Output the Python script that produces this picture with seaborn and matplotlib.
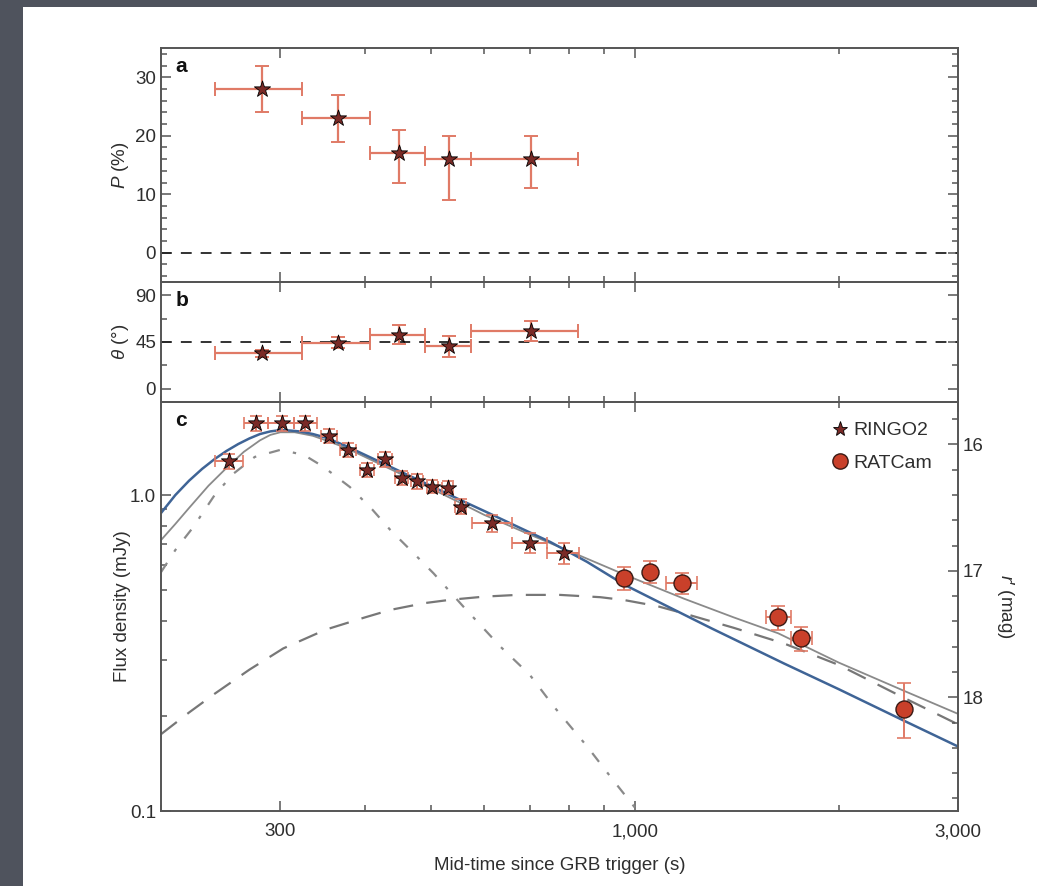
import numpy as np
import pandas as pd
import matplotlib
matplotlib.use("Agg")
import matplotlib.pyplot as plt
import seaborn as sns
from matplotlib.ticker import FixedLocator, MultipleLocator, LogLocator, NullFormatter, FixedFormatter
from matplotlib.patches import Rectangle
from matplotlib.lines import Line2D

# ---------------- data ----------------
# Panel a: polarisation degree P (%)
pol_t = [282, 365, 449, 533, 702]
pol_t_lo = [240, 323, 407, 491, 574]
pol_t_hi = [323, 407, 491, 574, 826]
pol_P = [28, 23, 17, 16, 16]
pol_P_elo = [4, 4, 5, 7, 5]
pol_P_ehi = [4, 4, 4, 4, 4]

# Panel b: polarisation angle theta (deg)
ang_theta = [34, 44, 52, 41, 56]
ang_elo = [3, 5, 9, 10, 10]
ang_ehi = [3, 6, 9, 10, 9]

# Panel c: RINGO2 light curve (mJy)
ringo_t = [252, 276, 302, 326, 354, 378, 403, 428, 453, 477, 503, 530, 554, 615, 700, 786]
ringo_t_lo = [240, 265, 288, 314, 344, 368, 393, 418, 443, 467, 493, 520, 544, 575, 659, 743]
ringo_t_hi = [264, 288, 314, 340, 364, 388, 413, 438, 463, 487, 513, 540, 564, 659, 743, 827]
ringo_F = [1.28, 1.69, 1.69, 1.69, 1.54, 1.39, 1.20, 1.30, 1.135, 1.107, 1.062, 1.055, 0.919, 0.813, 0.707, 0.654]
ringo_Ferr = [0.07, 0.09, 0.09, 0.09, 0.08, 0.07, 0.06, 0.07, 0.06, 0.06, 0.05, 0.05, 0.05, 0.05, 0.05, 0.05]

# Panel c: RATCam light curve (mJy)
rat_t = [966, 1053, 1175, 1629, 1762, 2498]
rat_t_lo = [948, 1035, 1111, 1560, 1700, 2470]
rat_t_hi = [984, 1071, 1234, 1700, 1828, 2526]
rat_F = [0.545, 0.572, 0.525, 0.410, 0.352, 0.211]
rat_F_lo = [0.500, 0.527, 0.485, 0.375, 0.322, 0.170]
rat_F_hi = [0.592, 0.618, 0.567, 0.447, 0.383, 0.254]

# Model curves
blue_t = [200, 210, 220, 230, 240, 250, 260, 270, 280, 290, 300, 310, 320, 335, 350, 375, 400, 450,
          500, 550, 600, 675, 751, 850, 966, 1100, 1300, 1661, 2000, 2498, 3000]
blue_F = [0.877, 1.00, 1.11, 1.21, 1.30, 1.38, 1.45, 1.51, 1.56, 1.59, 1.605, 1.60, 1.59, 1.56, 1.52,
          1.43, 1.34, 1.19, 1.07, 0.97, 0.89, 0.79, 0.71, 0.615, 0.52, 0.452, 0.378, 0.293, 0.243,
          0.193, 0.160]

gray_t = [200, 210, 220, 235, 250, 265, 280, 290, 300, 315, 335, 350, 375, 400, 450, 500, 550, 600,
          700, 800, 966, 1182, 1400, 1629, 2000, 2498, 3000]
gray_F = [0.72, 0.81, 0.91, 1.07, 1.22, 1.37, 1.49, 1.55, 1.58, 1.58, 1.54, 1.49, 1.41, 1.32, 1.17,
          1.05, 0.95, 0.865, 0.75, 0.665, 0.56, 0.47, 0.41, 0.365, 0.295, 0.240, 0.203]

fs_t = [200, 220, 240, 270, 303, 350, 400, 436, 490, 534, 600, 671, 776, 890, 966, 1080, 1182, 1400,
        1661, 2000, 2498, 3000]
fs_F = [0.175, 0.205, 0.235, 0.28, 0.327, 0.375, 0.41, 0.433, 0.455, 0.466, 0.477, 0.483, 0.483,
        0.475, 0.465, 0.445, 0.422, 0.38, 0.339, 0.29, 0.228, 0.188]

rs_t = [200, 210, 223, 240, 256, 275, 300, 325, 347, 380, 410, 436, 470, 505, 559, 634, 700, 760, 851,
        930, 1010]
rs_F = [0.57, 0.67, 0.79, 1.00, 1.17, 1.32, 1.39, 1.34, 1.23, 1.06, 0.90, 0.775, 0.66, 0.565, 0.443,
        0.331, 0.27, 0.214, 0.160, 0.125, 0.100]

x_ticks = [300, 1000, 3000]
x_ticklabels = ["300", "1,000", "3,000"]
mag_ticks = [16, 17, 18]
ZP = 16.40  # r' mag = ZP - 2.5 log10(F/mJy)

# ---------------- style ----------------
sns.set_theme(style="ticks")
plt.rcParams['font.family'] = ['Liberation Sans', 'DejaVu Sans']
plt.rcParams['mathtext.fontset'] = 'custom'
plt.rcParams['mathtext.it'] = 'Liberation Sans:italic'
plt.rcParams['mathtext.rm'] = 'Liberation Sans'

FS = 13.5
TXT = '#2e2e2e'
SPINE = '#555555'
ERRC = '#e07a66'
STARC = '#7a2a26'
CIRC = '#c9402a'

fig = plt.figure(figsize=(10.37, 8.86), dpi=100)
fig.patch.set_facecolor('#4f535d')
fig.patches.append(Rectangle((23/1037, 0), 1 - 23/1037, 1 - 7/886, transform=fig.transFigure,
                             facecolor='white', edgecolor='none', zorder=-10))

L, W = 161/1037, (958-161)/1037
ax_a = fig.add_axes([L, 1-282/886, W, (282-48)/886])
ax_b = fig.add_axes([L, 1-402/886, W, (402-282)/886], sharex=ax_a)
ax_c = fig.add_axes([L, 1-811/886, W, (811-402)/886], sharex=ax_a)

for ax in (ax_a, ax_b, ax_c):
    ax.set_facecolor('none')
    ax.set_xscale('log')
    for s in ax.spines.values():
        s.set_color(SPINE)
        s.set_linewidth(1.4)
    ax.tick_params(which='both', direction='in', top=True, right=True, color=SPINE,
                   labelsize=FS, labelcolor=TXT, width=1.1)
    ax.tick_params(which='major', length=7)
    ax.tick_params(which='minor', length=4)
    ax.tick_params(axis='x', which='both', pad=9)

ax_a.set_xlim(200, 3000)
ax_c.xaxis.set_major_locator(FixedLocator(x_ticks))
ax_c.xaxis.set_major_formatter(FixedFormatter(x_ticklabels))
ax_c.xaxis.set_minor_locator(LogLocator(base=10, subs=np.arange(2, 10)))
ax_c.xaxis.set_minor_formatter(NullFormatter())
plt.setp(ax_a.get_xticklabels(), visible=False)
plt.setp(ax_b.get_xticklabels(), visible=False)

# ----- panel a -----
xerr_a = [np.subtract(pol_t, pol_t_lo), np.subtract(pol_t_hi, pol_t)]
ax_a.errorbar(pol_t, pol_P, xerr=xerr_a, yerr=[pol_P_elo, pol_P_ehi], fmt='none',
              ecolor=ERRC, elinewidth=1.6, capsize=5, capthick=1.4, zorder=2)
sns.scatterplot(x=pol_t, y=pol_P, ax=ax_a, marker='*', s=150, color=STARC,
                edgecolor='black', linewidth=0.6, zorder=3, legend=False)
ax_a.axhline(0, color='#222222', lw=1.3, ls=(0, (6, 5)), zorder=1)
ax_a.set_ylim(-5, 35)
ax_a.yaxis.set_major_locator(FixedLocator([0, 10, 20, 30]))
ax_a.yaxis.set_minor_locator(MultipleLocator(2))
ax_a.set_ylabel(r'$P$ (%)', fontsize=FS, color=TXT)
ax_a.yaxis.set_label_coords(-0.038, 0.5)
ax_a.text(0.018, 0.922, 'a', transform=ax_a.transAxes, fontsize=15, fontweight='bold',
          color='#111111', va='center')

# ----- panel b -----
ax_b.errorbar(pol_t, ang_theta, xerr=xerr_a, yerr=[ang_elo, ang_ehi], fmt='none',
              ecolor=ERRC, elinewidth=1.6, capsize=5, capthick=1.4, zorder=2)
sns.scatterplot(x=pol_t, y=ang_theta, ax=ax_b, marker='*', s=150, color=STARC,
                edgecolor='black', linewidth=0.6, zorder=3, legend=False)
ax_b.axhline(45, color='#222222', lw=1.3, ls=(0, (6, 5)), zorder=1)
ax_b.set_ylim(-12.5, 102.5)
ax_b.yaxis.set_major_locator(FixedLocator([0, 45, 90]))
ax_b.yaxis.set_minor_locator(MultipleLocator(22.5))
ax_b.set_ylabel(r'$\theta$ (°)', fontsize=FS, color=TXT)
ax_b.yaxis.set_label_coords(-0.038, 0.5)
ax_b.text(0.018, 0.85, 'b', transform=ax_b.transAxes, fontsize=15, fontweight='bold',
          color='#111111', va='center')

# ----- panel c -----
ax_c.set_yscale('log')
ax_c.set_ylim(0.1, 1.97)
ax_c.yaxis.set_major_locator(FixedLocator([0.1, 1.0]))
ax_c.yaxis.set_major_formatter(FixedFormatter(['0.1', '1.0']))
ax_c.yaxis.set_minor_locator(LogLocator(base=10, subs=np.arange(2, 10)))
ax_c.yaxis.set_minor_formatter(NullFormatter())
ax_c.tick_params(which='both', right=False)

curves = pd.DataFrame({
    't': blue_t + gray_t + fs_t + rs_t,
    'F': blue_F + gray_F + fs_F + rs_F,
    'model': ['blue'] * len(blue_t) + ['gray'] * len(gray_t) + ['fs'] * len(fs_t) + ['rs'] * len(rs_t),
})
sns.lineplot(data=curves[curves.model == 'rs'], x='t', y='F', ax=ax_c, color='#8a8a8a', lw=1.6,
             estimator=None, sort=False, zorder=1).lines[-1].set_dashes([5, 6, 1.5, 6])
sns.lineplot(data=curves[curves.model == 'fs'], x='t', y='F', ax=ax_c, color='#777777', lw=1.6,
             estimator=None, sort=False, zorder=1).lines[-1].set_dashes([9, 6])
sns.lineplot(data=curves[curves.model == 'gray'], x='t', y='F', ax=ax_c, color='#8a8a8a', lw=1.3,
             estimator=None, sort=False, zorder=1)
sns.lineplot(data=curves[curves.model == 'blue'], x='t', y='F', ax=ax_c, color='#3f6496', lw=1.8,
             estimator=None, sort=False, zorder=1)

ax_c.errorbar(ringo_t, ringo_F, xerr=[np.subtract(ringo_t, ringo_t_lo), np.subtract(ringo_t_hi, ringo_t)],
              yerr=ringo_Ferr, fmt='none', ecolor=ERRC, elinewidth=1.4, capsize=4, capthick=1.2, zorder=2)
ax_c.errorbar(rat_t, rat_F, xerr=[np.subtract(rat_t, rat_t_lo), np.subtract(rat_t_hi, rat_t)],
              yerr=[np.subtract(rat_F, rat_F_lo), np.subtract(rat_F_hi, rat_F)], fmt='none',
              ecolor=ERRC, elinewidth=1.4, capsize=5, capthick=1.2, zorder=2)
sns.scatterplot(x=ringo_t, y=ringo_F, ax=ax_c, marker='*', s=150, color=STARC,
                edgecolor='black', linewidth=0.6, zorder=3, legend=False)
sns.scatterplot(x=rat_t, y=rat_F, ax=ax_c, marker='o', s=150, color=CIRC,
                edgecolor='#3a1a14', linewidth=1.0, zorder=3, legend=False)

ax_c.set_ylabel('Flux density (mJy)', fontsize=FS, color=TXT)
ax_c.yaxis.set_label_coords(-0.038, 0.5)
ax_c.set_xlabel('Mid-time since GRB trigger (s)', fontsize=FS, color=TXT, labelpad=12)
ax_c.text(0.018, 0.955, 'c', transform=ax_c.transAxes, fontsize=15, fontweight='bold',
          color='#111111', va='center')

handles = [Line2D([], [], ls='none', marker='*', markersize=11, markerfacecolor=STARC,
                  markeredgecolor='black', markeredgewidth=0.6),
           Line2D([], [], ls='none', marker='o', markersize=11, markerfacecolor=CIRC,
                  markeredgecolor='#3a1a14', markeredgewidth=1.0)]
leg = ax_c.legend(handles, ['RINGO2', 'RATCam'], loc='upper right', bbox_to_anchor=(0.985, 0.985),
                  frameon=False, fontsize=FS + 0.5, handletextpad=0.2, borderaxespad=0.3,
                  labelspacing=0.75, handlelength=1.0)
for t in leg.get_texts():
    t.set_color(TXT)

# right magnitude axis
ax_m = ax_c.twinx()
ax_m.set_ylim(ZP - 2.5 * np.log10(0.1), ZP - 2.5 * np.log10(1.97))
ax_m.yaxis.set_major_locator(FixedLocator(mag_ticks))
ax_m.yaxis.set_minor_locator(MultipleLocator(0.2))
ax_m.tick_params(which='both', direction='in', color=SPINE, labelsize=FS, labelcolor=TXT, width=1.1)
ax_m.tick_params(which='major', length=7)
ax_m.tick_params(which='minor', length=4)
for s in ax_m.spines.values():
    s.set_visible(False)
ax_m.set_ylabel("$r$′ (mag)", fontsize=FS, color=TXT, rotation=270, va='bottom')
ax_m.yaxis.set_label_coords(1.046, 0.5)

fig.savefig('out.png', dpi=100, facecolor=fig.get_facecolor())
